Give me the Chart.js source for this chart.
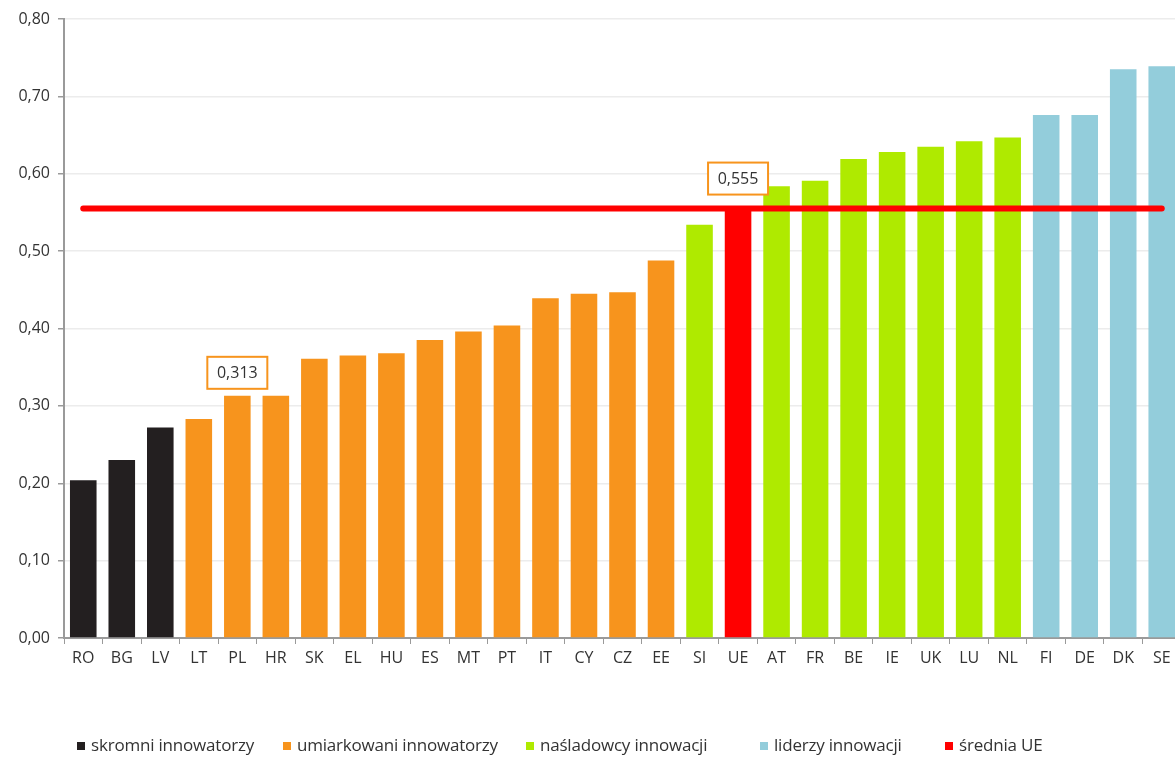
<!DOCTYPE html>
<html>
<head>
<meta charset="utf-8">
<script src="https://cdn.jsdelivr.net/npm/chart.js@4/dist/chart.umd.min.js"></script>
<style>
  body { margin: 0; background: #fff; overflow: hidden; }
  #wrap { position: relative; width: 1175px; height: 758px; overflow: hidden; }
  #chart { position: absolute; left: 0; top: 0; }
  .legend { position: absolute; top: 733px; font: 17px "Open Sans", sans-serif; color: #333; white-space: nowrap; letter-spacing: -0.2px; }
  .legend span.sq { display: inline-block; width: 8px; height: 8px; margin-right: 6px; vertical-align: 1px; }
</style>
</head>
<body>
<div id="wrap">
  <canvas id="chart" width="1182" height="758"></canvas>
  <div id="legend"></div>
</div>
<script>
const countries = ["RO","BG","LV","LT","PL","HR","SK","EL","HU","ES","MT","PT","IT","CY","CZ","EE",
                   "SI","UE","AT","FR","BE","IE","UK","LU","NL","FI","DE","DK","SE"];
const scores = [0.204, 0.230, 0.272, 0.283, 0.313, 0.313, 0.361, 0.365, 0.368, 0.385, 0.396, 0.404,
                0.439, 0.445, 0.447, 0.488, 0.534, 0.555, 0.584, 0.591, 0.619, 0.628, 0.635, 0.642,
                0.647, 0.676, 0.676, 0.735, 0.739];
// group index of every country (0 skromni, 1 umiarkowani, 2 naśladowcy, 3 liderzy, 4 średnia UE)
const groupOf = [0,0,0,1,1,1,1,1,1,1,1,1,1,1,1,1,2,4,2,2,2,2,2,2,2,3,3,3,3];
const groupNames = ["skromni innowatorzy", "umiarkowani innowatorzy", "naśladowcy innowacji",
                    "liderzy innowacji", "średnia UE"];
const groupColors = ["#231f20", "#f7941d", "#afea00", "#93cddb", "#ff0000"];
const euAverage = 0.555;
const callouts = ["PL", "UE"];

const fmt = (v, d) => v.toFixed(d).replace(".", ",");

// boxes with the value above a few bars
const calloutPlugin = {
  id: "callouts",
  afterDatasetsDraw(chart) {
    const ctx = chart.ctx;
    const xs = chart.scales.x, ys = chart.scales.y;
    ctx.save();
    callouts.forEach(c => {
      const i = countries.indexOf(c);
      const x = xs.getPixelForValue(i);
      const y = ys.getPixelForValue(scores[i]);
      const gap = groupOf[i] === 4 ? 14 : 7;
      const w = 60, h = 32;
      ctx.fillStyle = "#fff";
      ctx.fillRect(x - w / 2, y - gap - h, w, h);
      ctx.strokeStyle = "#f7941d";
      ctx.lineWidth = 2;
      ctx.strokeRect(x - w / 2, y - gap - h, w, h);
      ctx.fillStyle = "#333";
      ctx.font = '16px "Open Sans", sans-serif';
      ctx.textAlign = "center";
      ctx.textBaseline = "middle";
      ctx.fillText(fmt(scores[i], 3), x, y - gap - h / 2 + 1);
    });
    ctx.restore();
  }
};

new Chart(document.getElementById("chart"), {
  data: {
    labels: countries,
    datasets: [
      {
        type: "line",
        data: countries.map(() => euAverage),
        borderColor: "#ff0000",
        borderWidth: 6,
        borderCapStyle: "round",
        pointRadius: 0,
        order: 0
      },
      {
        type: "bar",
        data: scores,
        backgroundColor: groupOf.map(g => groupColors[g]),
        barPercentage: 0.69,
        categoryPercentage: 1,
        order: 1
      }
    ]
  },
  options: {
    responsive: false,
    animation: false,
    layout: { padding: { top: 19, right: 1, left: 0, bottom: 0 } },
    plugins: { legend: { display: false }, tooltip: { enabled: false } },
    scales: {
      x: {
        grid: { display: true, drawOnChartArea: false, tickLength: 6, tickColor: "#9a9a9a", offset: true },
        border: { color: "#9a9a9a", width: 2 },
        ticks: { color: "#333", font: { family: "Open Sans", size: 16 }, padding: 5, maxRotation: 0, autoSkip: false },
        afterFit(s) { s.height = 120; }
      },
      y: {
        min: 0, max: 0.8,
        grid: { color: "#ececec", lineWidth: 1.5, tickLength: 6, tickColor: "#9a9a9a" },
        border: { color: "#9a9a9a", width: 2 },
        ticks: { stepSize: 0.1, color: "#333", font: { family: "Open Sans", size: 16 }, padding: 8,
                 callback: v => fmt(v, 2) },
        afterFit(s) { s.width = 64; }
      }
    }
  },
  plugins: [calloutPlugin]
});

// legend below the chart
const legendLeft = [77, 283, 526, 760, 945];
const legend = document.getElementById("legend");
groupNames.forEach((name, g) => {
  const d = document.createElement("div");
  d.className = "legend";
  d.style.left = legendLeft[g] + "px";
  d.innerHTML = '<span class="sq" style="background:' + groupColors[g] + '"></span>' + name;
  legend.appendChild(d);
});
</script>
</body>
</html>
